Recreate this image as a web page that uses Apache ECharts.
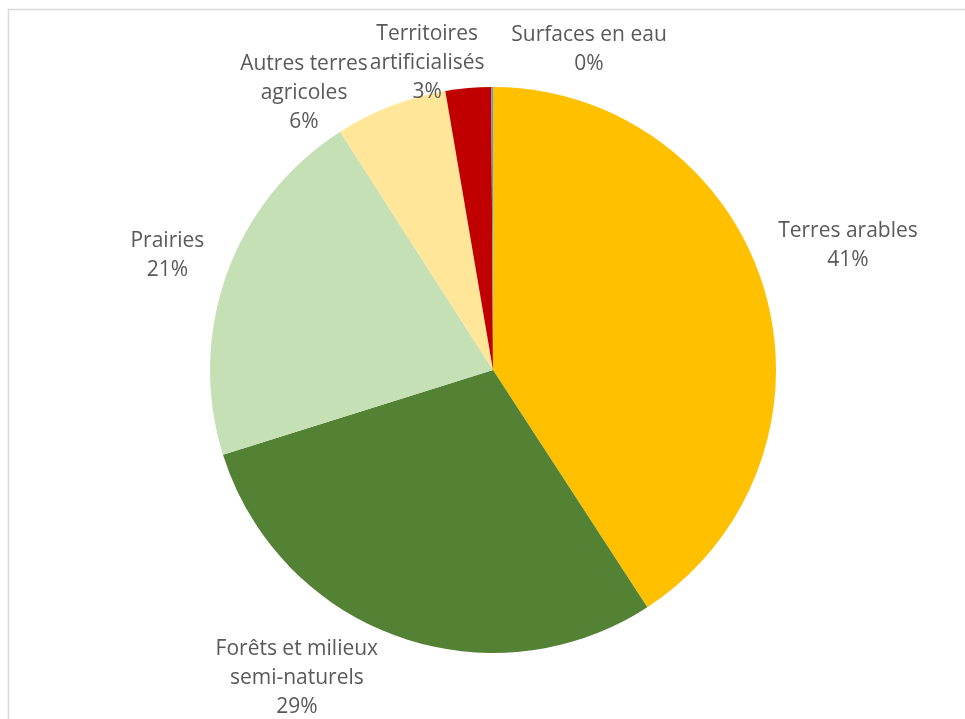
<!DOCTYPE html>
<html>
<head>
<meta charset="utf-8">
<script src="https://cdn.jsdelivr.net/npm/echarts@6/dist/echarts.min.js"></script>
<style>
html,body{margin:0;padding:0;background:#fff;}
#chart{width:965px;height:719px;}
</style>
</head>
<body>
<div id="chart"></div>
<script>
// ---- data ----
var categories = ['Terres arables', 'Forêts et milieux semi-naturels', 'Prairies', 'Autres terres agricoles', 'Territoires artificialisés', 'Surfaces en eau'];
var labelTexts = ['Terres arables', 'Forêts et milieux\nsemi-naturels', 'Prairies', 'Autres terres\nagricoles', 'Territoires\nartificialisés', 'Surfaces en eau'];
var values = [40.9, 29.4, 20.8, 6.4, 2.6, 0.1];
var colors = ['#FFC000', '#548235', '#C5E0B4', '#FFE699', '#C00000', '#5B9BD5'];

// ---- layout (not data) ----
var CX = 493, CY = 370, R = 283;
// label centre: [angle clockwise from 12 o'clock (deg), distance in radii]
var labelPolar = [[70.7, 1.329], [212.5, 1.290], [289.3, 1.219], [325.7, 1.185], [347.9, 1.110], [16.7, 1.181]];

var chart = echarts.init(document.getElementById('chart'), null, {renderer: 'canvas'});
var option = {
  animation: false,
  backgroundColor: '#ffffff',
  graphic: [{
    type: 'rect',
    shape: {x: 8.5, y: 9.5, width: 1000, height: 800},
    style: {fill: 'none', stroke: '#D9D9D9', lineWidth: 1.5},
    silent: true
  }],
  series: [{
    type: 'pie',
    center: [CX, CY],
    radius: R,
    startAngle: 90,
    clockwise: true,
    avoidLabelOverlap: false,
    data: categories.map(function (c, i) {
      return {name: c, value: values[i], itemStyle: {color: colors[i]}};
    }),
    itemStyle: {borderWidth: 0},
    label: {
      show: true,
      position: 'outside',
      color: '#595959',
      fontFamily: 'Open Sans',
      fontSize: 21,
      lineHeight: 29,
      align: 'center',
      formatter: function (p) {
        return labelTexts[p.dataIndex] + '\n' + Math.round(p.percent) + '%';
      }
    },
    labelLine: {show: false},
    labelLayout: function (p) {
      var lp = labelPolar[p.dataIndex];
      var a = lp[0] * Math.PI / 180;
      return {
        x: CX + lp[1] * R * Math.sin(a),
        y: CY - lp[1] * R * Math.cos(a),
        align: 'center',
        verticalAlign: 'middle'
      };
    },
    emphasis: {disabled: true}
  }]
};
chart.setOption(option);
</script>
</body>
</html>
